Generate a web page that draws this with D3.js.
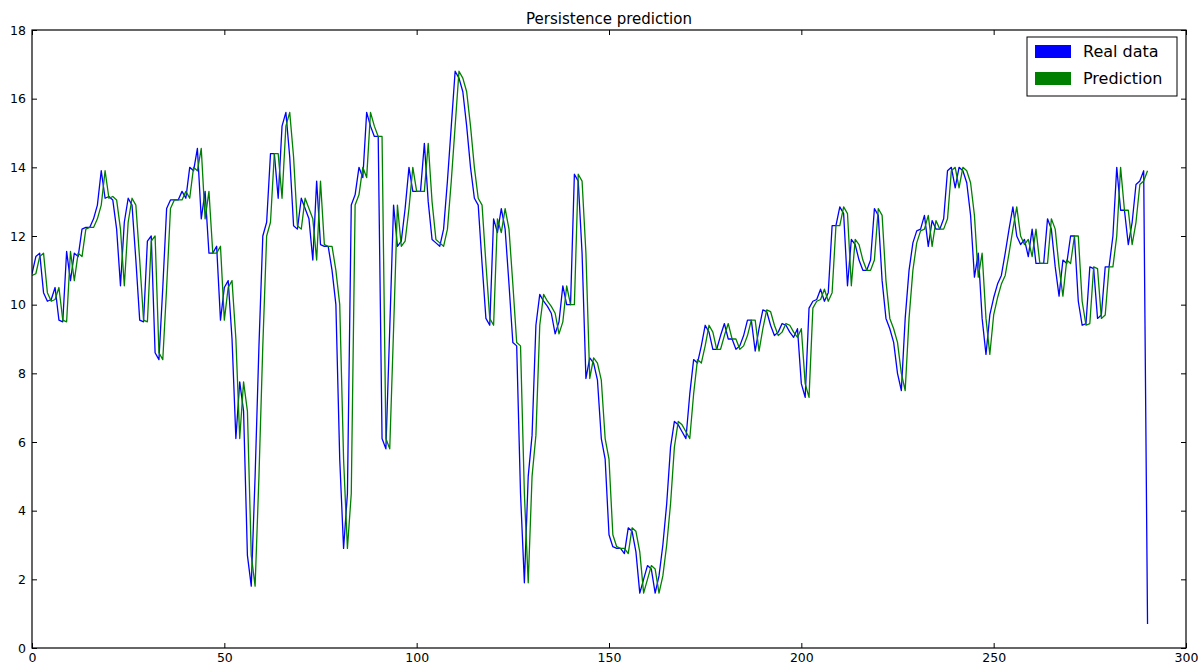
<!DOCTYPE html>
<html>
<head>
<meta charset="utf-8">
<script src="https://cdn.jsdelivr.net/npm/d3@7"></script>
<style>
  html, body { margin: 0; padding: 0; background: #fff; }
  svg { display: block; font-family: "DejaVu Sans", sans-serif; }
</style>
</head>
<body>
<svg id="chart" width="1204" height="665"></svg>
<script>
// Measured series (one value per time step)
const realData = [
  10.9, 11.4, 11.5, 10.35, 10.1, 10.15, 10.5, 9.55, 9.5, 11.55,
  10.7, 11.5, 11.4, 12.2, 12.25, 12.25, 12.5, 12.9, 13.9, 13.1,
  13.15, 13.05, 12.2, 10.55, 12.4, 13.1, 12.9, 11.3, 9.55, 9.5,
  11.85, 12.0, 8.6, 8.4, 10.5, 12.8, 13.05, 13.05, 13.05, 13.3,
  13.1, 14.0, 13.9, 14.55, 12.5, 13.3, 11.5, 11.5, 11.7, 9.55,
  10.5, 10.7, 9.0, 6.1, 7.75, 6.9, 2.7, 1.8, 5.0, 8.8,
  12.0, 12.4, 14.4, 14.4, 13.1, 15.2, 15.6, 14.3, 12.3, 12.2,
  13.1, 12.8, 12.5, 11.3, 13.6, 11.75, 11.7, 11.7, 11.0, 10.0,
  5.5, 2.9, 4.5, 12.9, 13.2, 14.0, 13.7, 15.6, 15.2, 14.9,
  14.9, 6.1, 5.8, 9.3, 12.9, 11.7, 11.85, 12.8, 14.0, 13.3,
  13.3, 13.3, 14.7, 13.0, 11.9, 11.8, 11.7, 12.2, 13.6, 15.2,
  16.8, 16.6, 16.2, 15.2, 14.0, 13.1, 12.9, 11.2, 9.6, 9.4,
  12.5, 12.1, 12.8, 12.2, 10.6, 8.9, 8.8, 4.5, 1.9, 5.0,
  6.2, 9.4, 10.3, 10.1, 9.95, 9.75, 9.15, 9.5, 10.55, 10.0,
  10.0, 13.8, 13.6, 11.5, 7.85, 8.45, 8.3, 7.8, 6.1, 5.5,
  3.3, 2.95, 2.9, 2.9, 2.75, 3.5, 3.4, 2.8, 1.6, 2.0,
  2.4, 2.3, 1.6, 2.1, 3.0, 4.2, 5.85, 6.6, 6.5, 6.3,
  6.1, 7.4, 8.4, 8.3, 8.8, 9.4, 9.2, 8.7, 8.7, 9.1,
  9.45, 9.0, 9.0, 8.7, 8.8, 9.1, 9.55, 9.55, 8.65, 9.3,
  9.85, 9.8, 9.4, 9.1, 9.2, 9.45, 9.4, 9.2, 9.05, 9.3,
  7.7, 7.3, 9.9, 10.1, 10.15, 10.45, 10.1, 10.35, 12.3, 12.3,
  12.85, 12.65, 10.55, 11.9, 11.75, 11.3, 11.0, 11.0, 11.3, 12.8,
  12.6, 10.7, 9.6, 9.3, 8.9, 8.0, 7.5, 9.6, 11.0, 11.8,
  12.15, 12.2, 12.6, 11.7, 12.45, 12.2, 12.2, 12.5, 13.9, 14.0,
  13.4, 14.0, 13.9, 13.55, 12.6, 10.8, 11.5, 9.6, 8.55, 9.7,
  10.2, 10.6, 10.85, 11.5, 12.2, 12.85, 12.0, 11.75, 11.9, 11.4,
  12.2, 11.2, 11.2, 11.2, 12.5, 12.2, 11.1, 10.25, 11.3, 11.2,
  12.0, 12.0, 10.1, 9.4, 9.45, 11.1, 11.05, 9.6, 9.7, 11.1,
  11.1, 12.0, 14.0, 12.75, 12.75, 11.75, 12.4, 13.5, 13.6, 13.9,
  0.7
];

// Persistence forecast: each step repeats the previous observation
const predictionData = [
  10.85, 10.9, 11.4, 11.5, 10.35, 10.1, 10.15, 10.5, 9.55, 9.5,
  11.55, 10.7, 11.5, 11.4, 12.2, 12.25, 12.25, 12.5, 12.9, 13.9,
  13.1, 13.15, 13.05, 12.2, 10.55, 12.4, 13.1, 12.9, 11.3, 9.55,
  9.5, 11.85, 12.0, 8.6, 8.4, 10.5, 12.8, 13.05, 13.05, 13.05,
  13.3, 13.1, 14.0, 13.9, 14.55, 12.5, 13.3, 11.5, 11.5, 11.7,
  9.55, 10.5, 10.7, 9.0, 6.1, 7.75, 6.9, 2.7, 1.8, 5.0,
  8.8, 12.0, 12.4, 14.4, 14.4, 13.1, 15.2, 15.6, 14.3, 12.3,
  12.2, 13.1, 12.8, 12.5, 11.3, 13.6, 11.75, 11.7, 11.7, 11.0,
  10.0, 5.5, 2.9, 4.5, 12.9, 13.2, 14.0, 13.7, 15.6, 15.2,
  14.9, 14.9, 6.1, 5.8, 9.3, 12.9, 11.7, 11.85, 12.8, 14.0,
  13.3, 13.3, 13.3, 14.7, 13.0, 11.9, 11.8, 11.7, 12.2, 13.6,
  15.2, 16.8, 16.6, 16.2, 15.2, 14.0, 13.1, 12.9, 11.2, 9.6,
  9.4, 12.5, 12.1, 12.8, 12.2, 10.6, 8.9, 8.8, 4.5, 1.9,
  5.0, 6.2, 9.4, 10.3, 10.1, 9.95, 9.75, 9.15, 9.5, 10.55,
  10.0, 10.0, 13.8, 13.6, 11.5, 7.85, 8.45, 8.3, 7.8, 6.1,
  5.5, 3.3, 2.95, 2.9, 2.9, 2.75, 3.5, 3.4, 2.8, 1.6,
  2.0, 2.4, 2.3, 1.6, 2.1, 3.0, 4.2, 5.85, 6.6, 6.5,
  6.3, 6.1, 7.4, 8.4, 8.3, 8.8, 9.4, 9.2, 8.7, 8.7,
  9.1, 9.45, 9.0, 9.0, 8.7, 8.8, 9.1, 9.55, 9.55, 8.65,
  9.3, 9.85, 9.8, 9.4, 9.1, 9.2, 9.45, 9.4, 9.2, 9.05,
  9.3, 7.7, 7.3, 9.9, 10.1, 10.15, 10.45, 10.1, 10.35, 12.3,
  12.3, 12.85, 12.65, 10.55, 11.9, 11.75, 11.3, 11.0, 11.0, 11.3,
  12.8, 12.6, 10.7, 9.6, 9.3, 8.9, 8.0, 7.5, 9.6, 11.0,
  11.8, 12.15, 12.2, 12.6, 11.7, 12.45, 12.2, 12.2, 12.5, 13.9,
  14.0, 13.4, 14.0, 13.9, 13.55, 12.6, 10.8, 11.5, 9.6, 8.55,
  9.7, 10.2, 10.6, 10.85, 11.5, 12.2, 12.85, 12.0, 11.75, 11.9,
  11.4, 12.2, 11.2, 11.2, 11.2, 12.5, 12.2, 11.1, 10.25, 11.3,
  11.2, 12.0, 12.0, 10.1, 9.4, 9.45, 11.1, 11.05, 9.6, 9.7,
  11.1, 11.1, 12.0, 14.0, 12.75, 12.75, 11.75, 12.4, 13.5, 13.6,
  13.9
];

const xTicks = [0, 50, 100, 150, 200, 250, 300];
const yTicks = [0, 2, 4, 6, 8, 10, 12, 14, 16, 18];
const seriesNames = ["Real data", "Prediction"];
const seriesColors = ["#0000ff", "#008000"];
const chartTitle = "Persistence prediction";

const svg = d3.select("#chart");
const W = 1204, H = 665;
const margin = { top: 30, right: 18, bottom: 17, left: 32 };
const plotW = W - margin.left - margin.right;
const plotH = H - margin.top - margin.bottom;

const x = d3.scaleLinear().domain([0, 300]).range([0, plotW]);
const y = d3.scaleLinear().domain([0, 18]).range([plotH, 0]);

const g = svg.append("g").attr("transform", `translate(${margin.left},${margin.top})`);

// clip lines to the axes box
g.append("clipPath").attr("id", "plotClip")
  .append("rect").attr("width", plotW).attr("height", plotH);

const line = d3.line()
  .x((d, i) => x(i))
  .y(d => y(d));

const series = [realData, predictionData];
const lines = g.append("g").attr("clip-path", "url(#plotClip)");
series.forEach((vals, k) => {
  lines.append("path")
    .datum(vals)
    .attr("fill", "none")
    .attr("stroke", seriesColors[k])
    .attr("stroke-width", 1.3)
    .attr("stroke-linejoin", "round")
    .attr("d", line);
});

// axes with inward ticks on all four sides
function styleAxis(sel) {
  sel.select(".domain").remove();
  sel.selectAll(".tick line").attr("stroke", "#000").attr("stroke-width", 1);
  sel.selectAll(".tick text").attr("fill", "#000").style("font-size", "12.5px")
     .style("font-family", "'DejaVu Sans', sans-serif");
}

g.append("g").attr("transform", `translate(0,${plotH})`)
  .call(d3.axisBottom(x).tickValues(xTicks).tickFormat(d3.format("d"))
        .tickSizeInner(-5).tickSizeOuter(0).tickPadding(5))
  .call(styleAxis);

g.append("g")
  .call(d3.axisTop(x).tickValues(xTicks).tickFormat("")
        .tickSizeInner(-5).tickSizeOuter(0))
  .call(styleAxis);

g.append("g")
  .call(d3.axisLeft(y).tickValues(yTicks).tickFormat(d3.format("d"))
        .tickSizeInner(-5).tickSizeOuter(0).tickPadding(6))
  .call(styleAxis);

g.append("g").attr("transform", `translate(${plotW},0)`)
  .call(d3.axisRight(y).tickValues(yTicks).tickFormat("")
        .tickSizeInner(-5).tickSizeOuter(0))
  .call(styleAxis);

// frame
g.append("rect")
  .attr("width", plotW).attr("height", plotH)
  .attr("fill", "none").attr("stroke", "#000").attr("stroke-width", 1.2);

// title
svg.append("text")
  .attr("x", margin.left + plotW / 2).attr("y", 24)
  .attr("text-anchor", "middle")
  .style("font-size", "15px")
  .attr("fill", "#000")
  .text(chartTitle);

// legend
const lg = svg.append("g").attr("transform", "translate(1027,37)");
lg.append("rect").attr("width", 150).attr("height", 59)
  .attr("fill", "#fff").attr("stroke", "#000").attr("stroke-width", 1);
seriesNames.forEach((name, k) => {
  lg.append("rect").attr("x", 8).attr("y", 8 + k * 27)
    .attr("width", 36).attr("height", 13).attr("fill", seriesColors[k]);
  lg.append("text").attr("x", 56).attr("y", 20 + k * 27)
    .style("font-size", "16px").attr("fill", "#000").text(name);
});
</script>
</body>
</html>
